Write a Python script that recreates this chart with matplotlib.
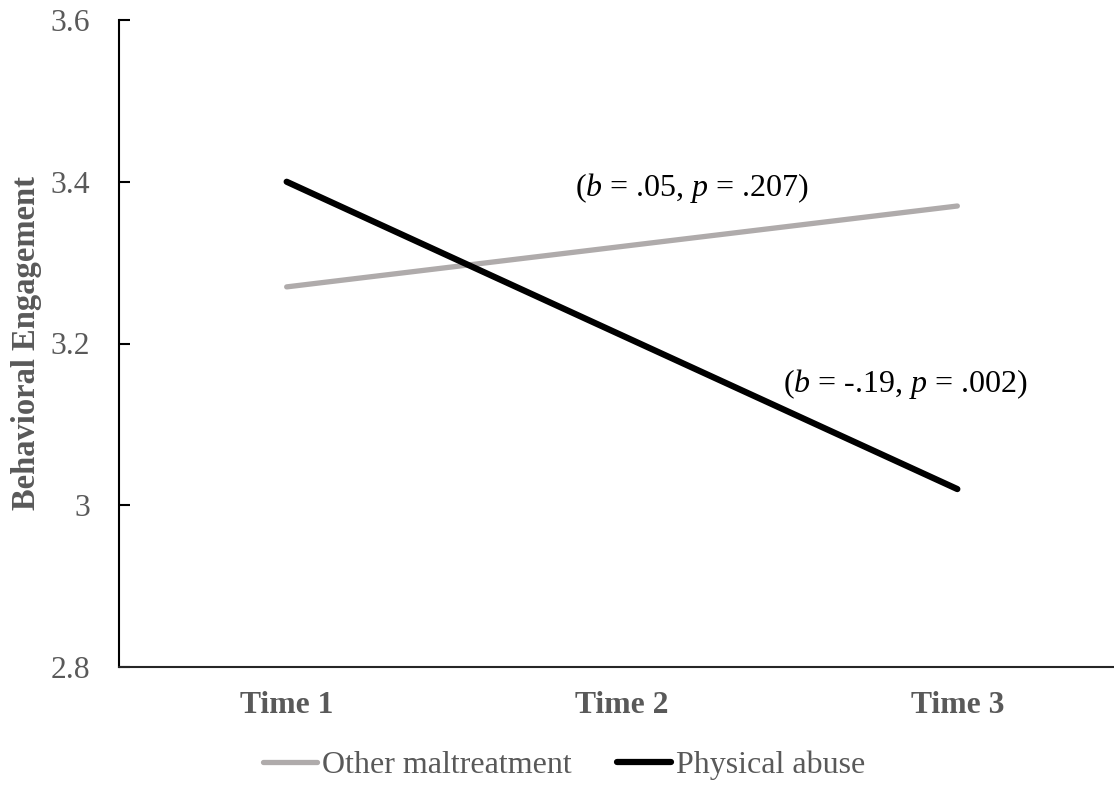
import matplotlib.pyplot as plt

# Data
times = ["Time 1", "Time 2", "Time 3"]
other_maltreatment = [3.27, 3.32, 3.37]
physical_abuse = [3.40, 3.21, 3.02]
y_ticks = [2.8, 3.0, 3.2, 3.4, 3.6]
y_tick_labels = ["2.8", "3", "3.2", "3.4", "3.6"]
note_other = r"($b$ = .05, $p$ = .207)"
note_phys = r"($b$ = -.19, $p$ = .002)"

plt.rcParams["font.family"] = ["Liberation Serif", "DejaVu Serif"]
plt.rcParams["mathtext.fontset"] = "custom"
plt.rcParams["mathtext.rm"] = "Liberation Serif"
plt.rcParams["mathtext.it"] = "Liberation Serif:italic"

text_grey = "#595959"
fs = 22.8

fig = plt.figure(figsize=(11.14, 7.86), dpi=100)
ax = fig.add_axes([119 / 1114, 1 - 667 / 786, (1125 - 119) / 1114, (667 - 20) / 786])

x = range(len(times))
ax.plot(x, other_maltreatment, color="#AFABAB", lw=3.8, solid_capstyle="round",
        label="Other maltreatment")
ax.plot(x, physical_abuse, color="black", lw=4.5, solid_capstyle="round",
        label="Physical abuse")

ax.set_xlim(-0.5, 2.5)
ax.set_ylim(2.8, 3.6)
ax.set_yticks(y_ticks)
ax.set_yticklabels(y_tick_labels, fontsize=fs, color=text_grey)
ax.set_xticks(list(x))
ax.set_xticklabels(times, fontsize=fs, fontweight="bold", color=text_grey)
ax.tick_params(axis="y", direction="in", length=8, width=1.5, pad=21)
ax.tick_params(axis="x", length=0, pad=17)

for side in ["top", "right"]:
    ax.spines[side].set_visible(False)
ax.spines["left"].set_linewidth(1.5)
ax.spines["bottom"].set_linewidth(1.5)
ax.spines["bottom"].set_color("#262626")

ax.text(1.21, 3.392, note_other, fontsize=23, ha="center", va="center")
ax.text(1.845, 3.150, note_phys, fontsize=23, ha="center", va="center")

fig.text(27 / 1114, 1 - 343 / 786, "Behavioral Engagement", rotation=90,
         fontsize=23.5, fontweight="bold", color=text_grey, ha="center", va="center")

leg = fig.legend(loc="center", bbox_to_anchor=(564 / 1114, 1 - 765 / 786), ncol=2,
                 frameon=False, fontsize=23, handlelength=1.7, handletextpad=0.15,
                 columnspacing=1.4)
for t in leg.get_texts():
    t.set_color(text_grey)

fig.savefig("out.png", dpi=100)
